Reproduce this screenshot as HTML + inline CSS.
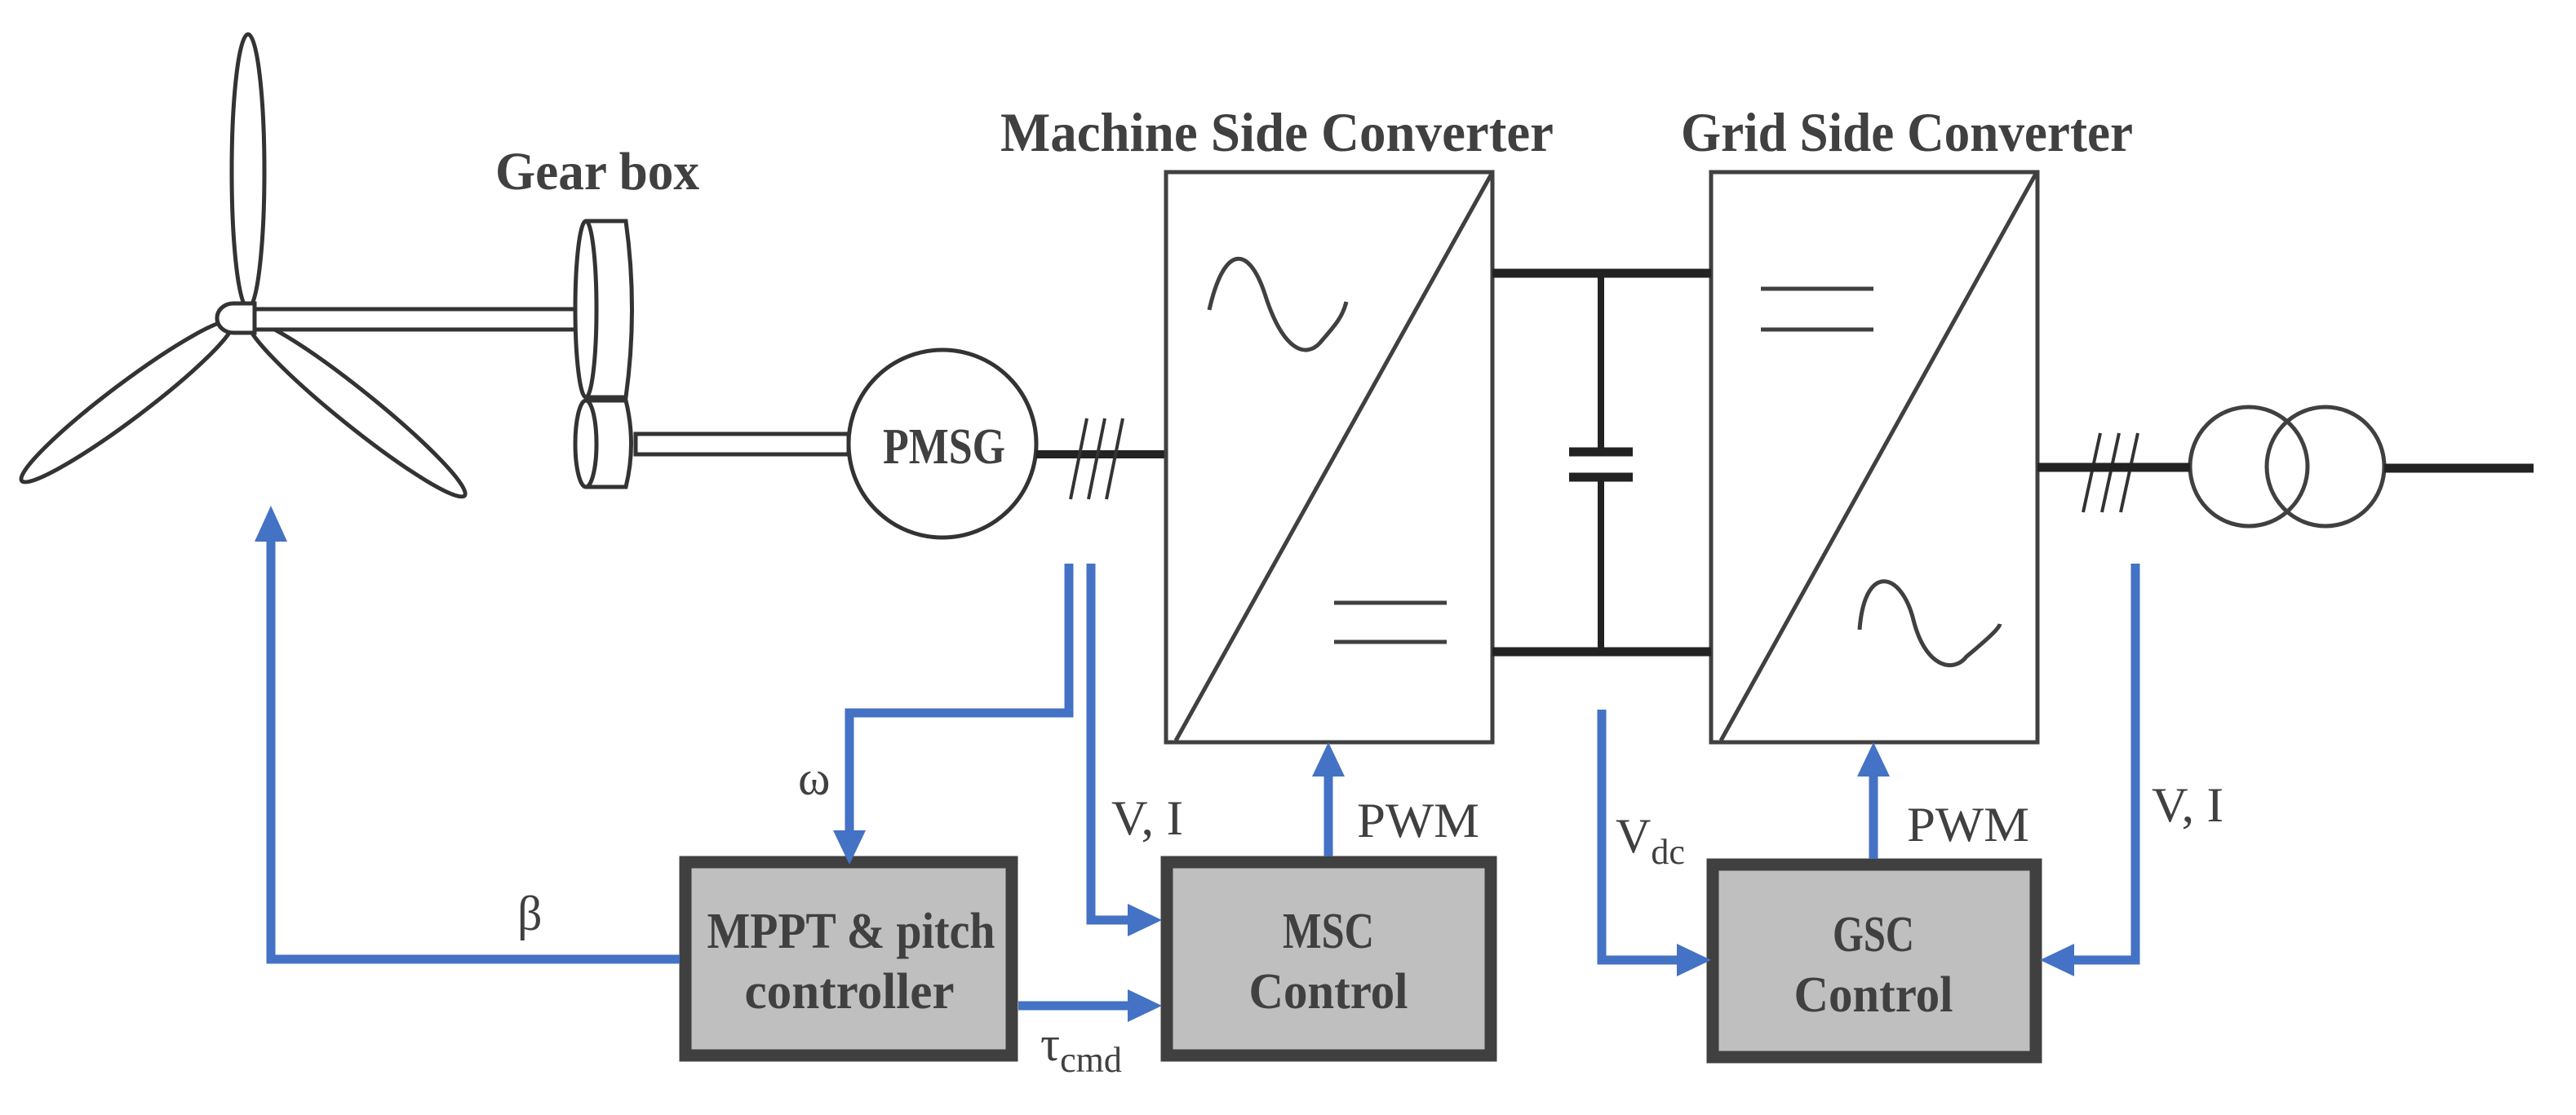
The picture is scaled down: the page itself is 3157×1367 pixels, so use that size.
<!DOCTYPE html>
<html><head><meta charset="utf-8"><style>html,body{margin:0;padding:0;background:#fff}svg{display:block}</style></head>
<body>
<svg width="3157" height="1367" viewBox="0 0 3157 1367" xmlns="http://www.w3.org/2000/svg" font-family="'Liberation Serif', serif" fill="#404040">
<!-- turbine -->
<g fill="#fff" stroke="#333" stroke-width="5">
<ellipse cx="304" cy="210" rx="20" ry="168"/>
<ellipse cx="156" cy="492" rx="162" ry="22" transform="rotate(143 156 492)"/>
<ellipse cx="437" cy="501" rx="170" ry="22" transform="rotate(38.8 437 501)"/>
<path d="M312 372 L286 372 A20 18 0 0 0 286 408 L312 408 Z"/>
<path d="M312 379 L704 379 A6 12.5 0 0 1 704 404 L312 404 Z"/>
<path d="M718 271 L767 271 Q782 379 767 487 L718 487"/>
<ellipse cx="718" cy="379" rx="13" ry="108"/>
<path d="M779 532 L1040 532 L1040 557 L779 557 Z"/>
<path d="M718 491 L767 491 Q780 544 767 597 L718 597"/>
<ellipse cx="718" cy="544" rx="13" ry="53"/>
<circle cx="1155" cy="544" r="115"/>
</g>
<g font-weight="bold">
<text x="607" y="232" font-size="66" textLength="250" lengthAdjust="spacingAndGlyphs">Gear box</text>
<text x="1082" y="568" font-size="62" textLength="150" lengthAdjust="spacingAndGlyphs">PMSG</text>
<text x="1226" y="185" font-size="68" textLength="678" lengthAdjust="spacingAndGlyphs">Machine Side Converter</text>
<text x="2060" y="185" font-size="68" textLength="554" lengthAdjust="spacingAndGlyphs">Grid Side Converter</text>
</g>
<line x1="1270" y1="557" x2="1429" y2="557" stroke="#222" stroke-width="10"/>
<g stroke="#333" stroke-width="4">
<line x1="1332" y1="513" x2="1312" y2="612"/><line x1="1354" y1="513" x2="1334" y2="612"/><line x1="1376" y1="513" x2="1356" y2="612"/>
<line x1="2574" y1="531" x2="2553" y2="628"/><line x1="2597" y1="531" x2="2576" y2="628"/><line x1="2620" y1="531" x2="2599" y2="628"/>
</g>
<!-- converters -->
<g fill="none" stroke="#404040" stroke-width="5">
<rect x="1429" y="211" width="400" height="699"/>
<line x1="1441" y1="908" x2="1828" y2="213"/>
<path d="M1482 380 C1500 300 1530 300 1550 360 C1572 430 1600 440 1618 420 C1635 400 1645 390 1650 370"/>
<line x1="1635" y1="739" x2="1773" y2="739"/><line x1="1635" y1="787" x2="1773" y2="787"/>
<rect x="2097" y="211" width="400" height="699"/>
<line x1="2109" y1="908" x2="2495" y2="213"/>
<line x1="2158" y1="354" x2="2296" y2="354"/><line x1="2158" y1="404" x2="2296" y2="404"/>
<path d="M2279 772 C2285 690 2330 700 2345 760 C2360 820 2395 825 2410 805 C2440 780 2450 770 2451 765"/>
<ellipse cx="2756" cy="572" rx="72" ry="73"/>
<ellipse cx="2850" cy="572" rx="72" ry="73"/>
</g>
<g stroke="#222">
<line x1="1829" y1="335" x2="2097" y2="335" stroke-width="11"/>
<line x1="1829" y1="799" x2="2097" y2="799" stroke-width="11"/>
<line x1="1962" y1="335" x2="1962" y2="554" stroke-width="8"/>
<line x1="1962" y1="585" x2="1962" y2="799" stroke-width="8"/>
<line x1="1923" y1="554" x2="2001" y2="554" stroke-width="11"/>
<line x1="1923" y1="585" x2="2001" y2="585" stroke-width="11"/>
<line x1="2497" y1="573" x2="2684" y2="573" stroke-width="11"/>
<line x1="2922" y1="574" x2="3105" y2="574" stroke-width="11"/>
</g>
<g fill="#bfbfbf" stroke="#404040" stroke-width="15">
<rect x="840" y="1057" width="400" height="237"/>
<rect x="1430" y="1057" width="397" height="237"/>
<rect x="2099" y="1060" width="396" height="236"/>
</g>
<g font-size="62" text-anchor="middle" font-weight="bold">
<text x="1043" y="1162" textLength="353" lengthAdjust="spacingAndGlyphs">MPPT &amp; pitch</text>
<text x="1041" y="1236" textLength="257" lengthAdjust="spacingAndGlyphs">controller</text>
<text x="1628" y="1162" textLength="112" lengthAdjust="spacingAndGlyphs">MSC</text>
<text x="1628" y="1236" textLength="195" lengthAdjust="spacingAndGlyphs">Control</text>
<text x="2296" y="1166" textLength="100" lengthAdjust="spacingAndGlyphs">GSC</text>
<text x="2296" y="1240" textLength="195" lengthAdjust="spacingAndGlyphs">Control</text>
</g>
<g fill="none" stroke="#4472c4" stroke-width="11">
<polyline points="833,1176 332,1176 332,660"/>
<polyline points="1310,691 1310,874 1041,874 1041,1020"/>
<polyline points="1337,691 1337,1128 1385,1128"/>
<line x1="1248" y1="1233" x2="1385" y2="1233"/>
<line x1="1628" y1="1050" x2="1628" y2="950"/>
<line x1="2296" y1="1053" x2="2296" y2="950"/>
<polyline points="1963,870 1963,1177 2058,1177"/>
<polyline points="2617,691 2617,1177 2540,1177"/>
</g>
<g fill="#4472c4">
<polygon points="312,664 352,664 332,620"/>
<polygon points="1021,1018 1061,1018 1041,1060"/>
<polygon points="1382,1108 1382,1148 1424,1128"/>
<polygon points="1382,1213 1382,1253 1424,1233"/>
<polygon points="1608,952 1648,952 1628,910"/>
<polygon points="2276,952 2316,952 2296,910"/>
<polygon points="2055,1157 2055,1197 2097,1177"/>
<polygon points="2542,1157 2542,1197 2500,1177"/>
</g>
<g font-size="60">
<text x="634" y="1140">β</text>
<text x="978" y="974">ω</text>
<text x="1362" y="1023" textLength="88" lengthAdjust="spacingAndGlyphs">V, I</text>
<text x="1663" y="1026" textLength="150" lengthAdjust="spacingAndGlyphs">PWM</text>
<text x="2337" y="1031" textLength="150" lengthAdjust="spacingAndGlyphs">PWM</text>
<text x="2637" y="1007" textLength="88" lengthAdjust="spacingAndGlyphs">V, I</text>
<text x="1980" y="1045">V<tspan font-size="44" dy="14">dc</tspan></text>
<text x="1275" y="1300">τ<tspan font-size="44" dy="14">cmd</tspan></text>
</g>
</svg>
</body></html>
